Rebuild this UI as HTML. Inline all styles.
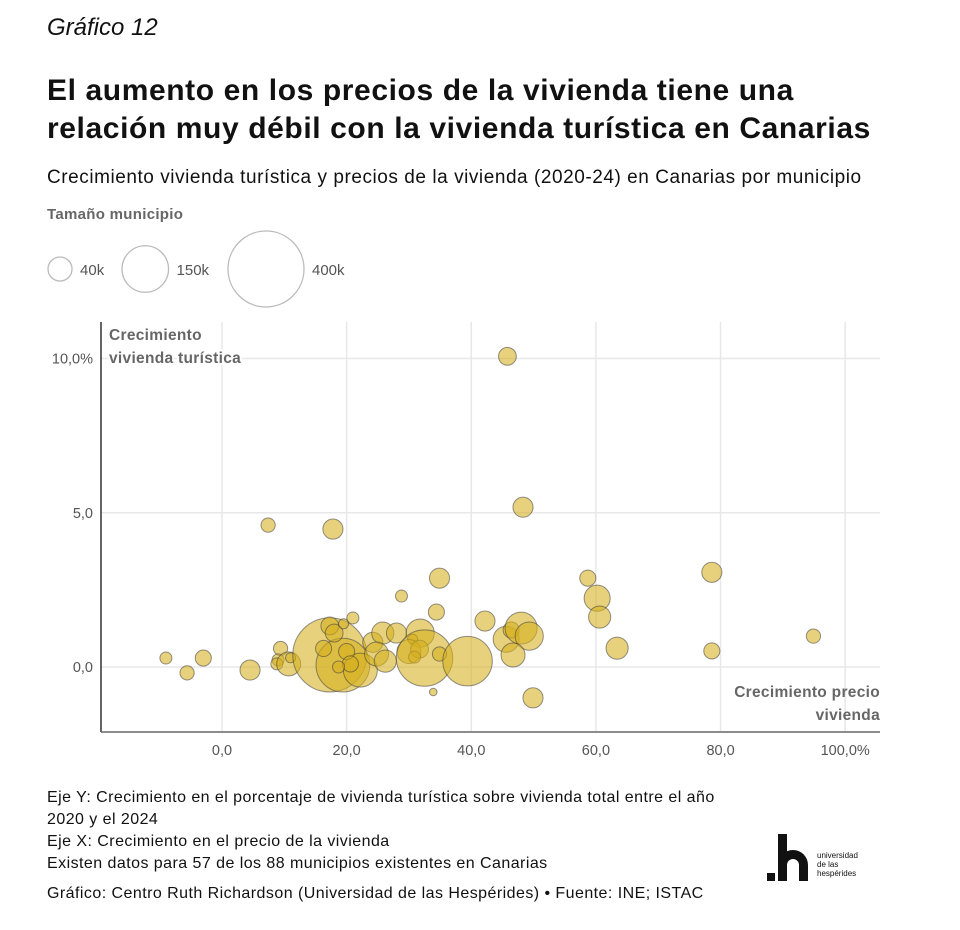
<!DOCTYPE html>
<html><head><meta charset="utf-8"><style>
body{margin:0;background:#fff;font-family:"Liberation Sans",sans-serif;color:#111;}
.wrap{position:relative;width:960px;height:930px;overflow:hidden;}
.t{position:absolute;left:47px;white-space:nowrap;}
</style></head><body>
<div class="wrap">
<div class="t" style="top:14px;font-size:24px;font-style:italic;">Gráfico 12</div>
<div class="t" style="top:72px;font-size:30px;font-weight:bold;line-height:38px;letter-spacing:0.6px;">El aumento en los precios de la vivienda tiene una<br>relación muy débil con la vivienda turística en Canarias</div>
<div class="t" style="top:167px;font-size:19px;letter-spacing:0.55px;">Crecimiento vivienda turística y precios de la vivienda (2020-24) en Canarias por municipio</div>
<div class="t" style="top:206px;font-size:15px;font-weight:bold;color:#666;letter-spacing:0.3px;">Tamaño municipio</div>
<svg id="chart" width="960" height="930" style="position:absolute;left:0;top:0"></svg>
<div class="t" style="top:787px;font-size:16px;line-height:22px;letter-spacing:0.45px;">Eje Y: Crecimiento en el porcentaje de vivienda turística sobre vivienda total entre el año<br>2020 y el 2024<br>Eje X: Crecimiento en el precio de la vivienda<br>Existen datos para 57 de los 88 municipios existentes en Canarias</div>
<div class="t" style="top:885px;font-size:16px;letter-spacing:0.45px;">Gráfico: Centro Ruth Richardson (Universidad de las Hespérides) • Fuente: INE; ISTAC</div>
<div style="position:absolute;left:765px;top:832px;width:110px;height:52px;">
<div style="position:absolute;left:2px;top:41px;width:8px;height:8px;background:#111"></div>
<div style="position:absolute;left:13px;top:2px;width:9px;height:47px;background:#111"></div>
<div style="position:absolute;left:13px;top:18px;width:30px;height:31px;border:9px solid #111;border-bottom:none;border-radius:16px 16px 0 0;box-sizing:border-box;"></div>
<div style="position:absolute;left:52px;top:19px;font-size:8px;line-height:9px;">universidad<br>de las<br>hespérides</div>
</div>
</div>
<script>
const xVals=[7.4,17.8,48.3,34.9,28.8,34.4,42.2,21,-9,-5.6,-3,4.5,9.4,9,8.8,10.7,11,17.3,19.4,22.2,17.3,18,19.5,16.3,20,20.6,18.7,24.2,25.8,24.8,26.2,28,31.8,30.6,30,31.7,30.9,32.5,34.9,33.9,39.4,45.6,46.4,48,49.3,46.7,49.9,45.8,58.7,60.2,60.6,63.4,78.6,78.6,94.9];
const yVals=[4.6,4.47,5.18,2.88,2.3,1.78,1.49,1.59,0.29,-0.19,0.29,-0.1,0.6,0.23,0.1,0.1,0.3,0.39,0.06,-0.1,1.33,1.1,1.4,0.6,0.5,0.1,0,0.8,1.1,0.42,0.19,1.1,1.1,0.9,0.5,0.58,0.32,0.29,0.42,-0.81,0.19,0.9,1.2,1.26,1.0,0.39,-1.0,10.07,2.88,2.23,1.62,0.61,3.07,0.52,1.0];
const popK=[14,28,28,28,10,18,28,10,10,14,18,28,14,10,10,40,7,380,200,80,22,22,7,18,18,18,10,28,34,40,34,28,55,7,40,22,10,220,14,4,170,47,18,71,55,40,28,22,18,47,34,34,28,18,14];
const xTicks=[0,20,40,60,80,100];
const xTickLabels=["0,0","20,0","40,0","60,0","80,0","100,0%"];
const yTicks=[0,5,10];
const yTickLabels=["0,0","5,0","10,0%"];
const legendPops=[40,150,400];
const legendLabels=["40k","150k","400k"];
const legendLeft=[48,122,228];

const NS="http://www.w3.org/2000/svg",svg=document.getElementById("chart");
const X=v=>222+v*6.232, Y=v=>667-v*30.85, R=p=>38*Math.sqrt(p/400);
function mk(t,a,p){const e=document.createElementNS(NS,t);for(const k in a)e.setAttribute(k,a[k]);(p||svg).appendChild(e);return e;}
// legend
legendPops.forEach((p,i)=>{const r=R(p);const lx=legendLeft[i];const c=mk("circle",{cx:lx+r,cy:269,r:r,fill:"none",stroke:"#bbb","stroke-width":1.3});


const t=mk("text",{x:lx+2*r+8,y:275,"font-size":15,fill:"#555"});t.textContent=legendLabels[i];

});
// grid
xTicks.forEach((v,i)=>{const l=mk("line",{x1:X(v),x2:X(v),y1:322,y2:731,stroke:"#e8e8e8","stroke-width":1.5});


const t=mk("text",{x:X(v),y:755,"font-size":14.5,fill:"#555","text-anchor":"middle"});t.textContent=xTickLabels[i];

});
yTicks.forEach((v,i)=>{const l=mk("line",{x1:101,x2:880,y1:Y(v),y2:Y(v),stroke:"#e8e8e8","stroke-width":1.5});


const t=mk("text",{x:93,y:Y(v)+5,"font-size":14.5,fill:"#555","text-anchor":"end"});t.textContent=yTickLabels[i];

});
const ax=mk("line",{x1:101,x2:101,y1:322,y2:732,stroke:"#333","stroke-width":1.5});


const ax2=mk("line",{x1:101,x2:880,y1:732,y2:732,stroke:"#666","stroke-width":1.5});


// axis titles
const yt=mk("text",{"font-size":15.5,"font-weight":"bold",fill:"#666","letter-spacing":"0.3"});


yt.innerHTML='<tspan x="109" y="340" style="paint-order:stroke" stroke="#fff" stroke-width="4">Crecimiento</tspan><tspan x="109" y="363" style="paint-order:stroke" stroke="#fff" stroke-width="4">vivienda turística</tspan>';
// bubbles
xVals.forEach((v,i)=>{const c=mk("circle",{cx:X(v),cy:Y(yVals[i]),r:R(popK[i]),fill:"rgba(214,176,30,0.58)",stroke:"rgba(60,60,60,0.55)","stroke-width":1});

});
const xt=mk("text",{"font-size":15.5,"font-weight":"bold",fill:"#666","text-anchor":"end","letter-spacing":"0.3"});


xt.innerHTML='<tspan x="880" y="697">Crecimiento precio</tspan><tspan x="880" y="720">vivienda</tspan>';
</script>
</body></html>
